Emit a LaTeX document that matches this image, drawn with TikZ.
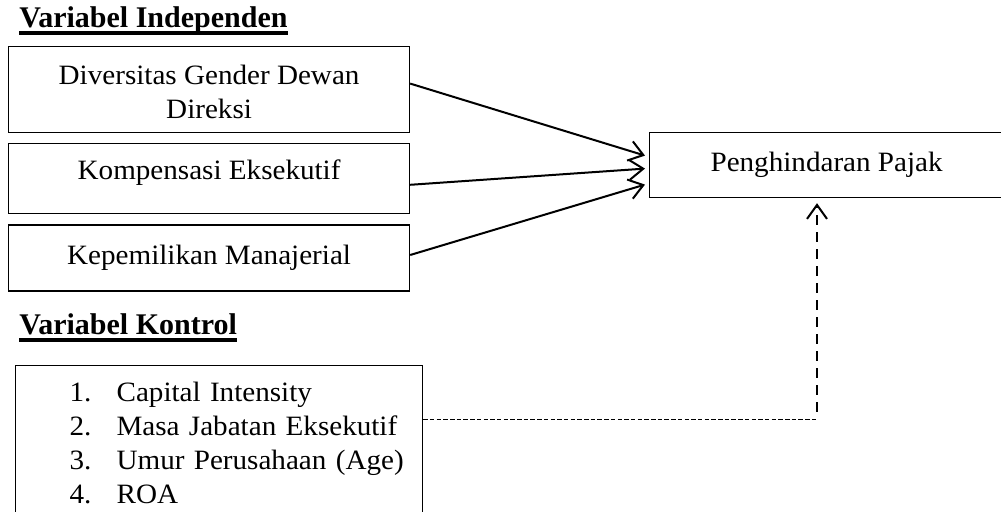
\documentclass[tikz,border=0pt]{standalone}
\usepackage{fontspec}
\setmainfont{Liberation Serif}[FakeStretch=1.04]
\newfontfamily\headfont{Liberation Serif}
\newcommand{\garisbawah}[1]{\leavevmode\setbox0\hbox{#1}\rlap{\rule[-3.5pt]{\wd0}{2pt}}\box0}
\newcommand{\butir}[2]{\hspace*{27pt}\makebox[23.5pt][l]{#1}#2}
\usetikzlibrary{arrows.meta,calc,positioning}

\begin{document}
\begin{tikzpicture}[
  x=0.5pt, y=-0.5pt,
  node distance=5pt,
  box/.style={draw, line width=0.6pt, inner sep=0pt, align=center, minimum width=200.5pt, font=\fontsize{14}{17}\selectfont},
  head/.style={anchor=base west, inner sep=0pt, font=\headfont\bfseries\fontsize{15}{18}\selectfont},
  arr/.style={-{Straight Barb[length=7pt,width=10pt]}, line width=1pt},
  ctrl/.style={line width=0.5pt, dash pattern=on 2.25pt off 1.1pt},
  ctrlarr/.style={-{Straight Barb[length=7pt,width=10pt]}, line width=1pt, dash pattern=on 5pt off 3.5pt}
]
\useasboundingbox (0,0) rectangle (1001,512);

% variabel independen
\node[head] (judulindep) at (19,28) {\garisbawah{Variabel Independen}};
\node[box, anchor=north west, minimum height=43pt, text height=29pt, text depth=0pt] (diversitas) at (8,46) {Diversitas Gender Dewan\\Direksi};
\node[box, below=of diversitas, minimum height=35pt, text height=9.5pt, text depth=8.5pt] (kompensasi) {Kompensasi Eksekutif};
\node[box, below=of kompensasi, minimum height=33pt] (kepemilikan) {Kepemilikan Manajerial};

% variabel dependen
\node[box, anchor=north west, minimum width=177pt, minimum height=32.5pt] (pajak) at (649,132) {Penghindaran Pajak};

% variabel kontrol
\node[head] (judulkontrol) at (19,335) {\garisbawah{Variabel Kontrol}};
\node[box, anchor=north west, align=left, text width=203.5pt, text height=18pt, text depth=59pt] (kontrol) at (15,365)
  {\butir{1.}{Capital Intensity}\\
   \butir{2.}{Masa Jabatan Eksekutif}\\
   \butir{3.}{Umur Perusahaan (Age)}\\
   \butir{4.}{ROA}};

\draw[arr] ($(diversitas.east)+(0,-6)$) -- ($(pajak.west)+(-4,-9.5)$);
\draw[arr] ($(kompensasi.east)+(0,6)$) -- ($(pajak.west)+(-4,3.5)$);
\draw[arr] ($(kepemilikan.east)+(0,-3)$) -- ($(pajak.west)+(-4,19.5)$);

\coordinate (sudut) at (817,420);
\draw[ctrl] ($(kontrol.north east)+(0,55)$) -- (sudut);
\draw[ctrlarr, shorten <=4pt, shorten >=2.5pt] (sudut) -- (sudut |- pajak.south);
\end{tikzpicture}
\end{document}
